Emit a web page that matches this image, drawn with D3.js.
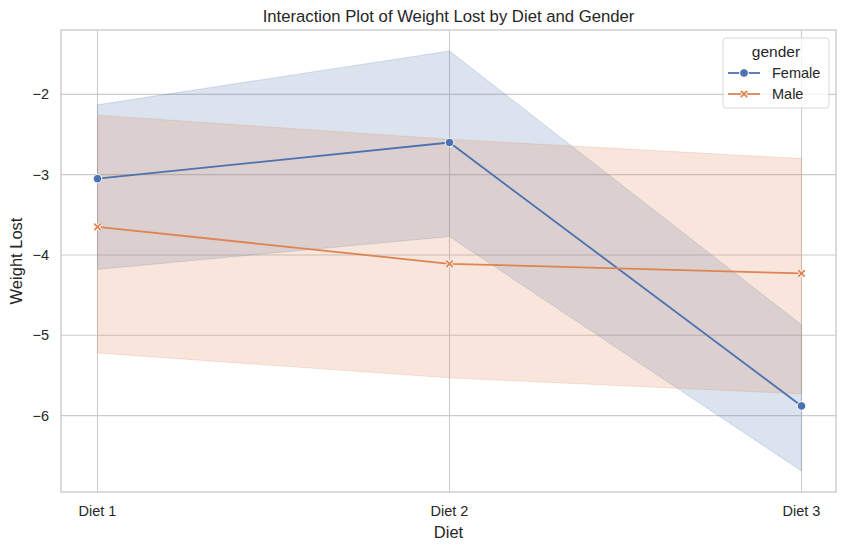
<!DOCTYPE html>
<html>
<head>
<meta charset="utf-8">
<script src="https://cdn.jsdelivr.net/npm/d3@7"></script>
<style>
  body { margin: 0; background: #fff; }
  svg text { font-family: "Liberation Sans", Arial, sans-serif; fill: #262626; }
</style>
</head>
<body>
<div id="chart"></div>
<script>
// data
const diets = ["Diet 1", "Diet 2", "Diet 3"];
const femaleMean = [-3.05, -2.60, -5.88];
const femaleLow = [-4.18, -3.77, -6.69];
const femaleHigh = [-2.13, -1.46, -4.87];
const maleMean = [-3.65, -4.11, -4.23];
const maleLow = [-5.22, -5.53, -5.73];
const maleHigh = [-2.26, -2.56, -2.80];
const yTicks = [-6, -5, -4, -3, -2];

const series = [
    { name: "Female", color: "#4c72b0", mean: femaleMean, low: femaleLow, high: femaleHigh, marker: "circle" },
    { name: "Male", color: "#dd8452", mean: maleMean, low: maleLow, high: maleHigh, marker: "x" }
];

const W = 846, H = 550;
const plot = { left: 61, right: 836, top: 30, bottom: 492 };

const svg = d3.select("#chart").append("svg")
    .attr("width", W)
    .attr("height", H);

const x = d3.scalePoint()
    .domain(diets)
    .range([plot.left + 36.5, plot.right - 34.5]);

// 5% padding like matplotlib
const allVals = femaleLow.concat(femaleHigh, maleLow, maleHigh);
const lo = d3.min(allVals), hi = d3.max(allVals);
const pad = (hi - lo) * 0.05;
const y = d3.scaleLinear()
    .domain([lo - pad, hi + pad])
    .range([plot.bottom, plot.top]);

// grid
const grid = svg.append("g");
grid.selectAll(".hgrid").data(yTicks).join("line")
    .attr("x1", plot.left).attr("x2", plot.right)
    .attr("y1", d => y(d)).attr("y2", d => y(d))
    .attr("stroke", "#cccccc").attr("stroke-width", 1.1);
grid.selectAll(".vgrid").data(diets).join("line")
    .attr("x1", d => x(d)).attr("x2", d => x(d))
    .attr("y1", plot.top).attr("y2", plot.bottom)
    .attr("stroke", "#cccccc").attr("stroke-width", 1.1);

// confidence bands
const band = d3.area()
    .x((d, i) => x(diets[i]))
    .y0(d => y(d[0]))
    .y1(d => y(d[1]));

series.forEach(s => {
    const pts = s.low.map((v, i) => [v, s.high[i]]);
    svg.append("path")
        .datum(pts)
        .attr("d", band)
        .attr("fill", s.color)
        .attr("fill-opacity", 0.2)
        .attr("stroke", s.color)
        .attr("stroke-opacity", 0.2)
        .attr("stroke-width", 1);
});

const line = d3.line()
    .x((d, i) => x(diets[i]))
    .y(d => y(d));

function drawMarker(g, type, cx, cy, color) {
    if (type === "circle") {
        g.append("circle")
            .attr("cx", cx).attr("cy", cy).attr("r", 4.3)
            .attr("fill", color).attr("stroke", "#fff").attr("stroke-width", 1);
    } else {
        const r = 3.2;
        const p = `M${cx - r},${cy - r}L${cx + r},${cy + r}M${cx - r},${cy + r}L${cx + r},${cy - r}`;
        g.append("path").attr("d", p).attr("stroke", "#fff").attr("stroke-width", 3.5);
        g.append("path").attr("d", p).attr("stroke", color).attr("stroke-width", 1.8);
    }
}

series.forEach(s => {
    svg.append("path")
        .datum(s.mean)
        .attr("d", line)
        .attr("fill", "none")
        .attr("stroke", s.color)
        .attr("stroke-width", 1.8);
    const g = svg.append("g");
    s.mean.forEach((v, i) => drawMarker(g, s.marker, x(diets[i]), y(v), s.color));
});

// frame
svg.append("rect")
    .attr("x", plot.left).attr("y", plot.top)
    .attr("width", plot.right - plot.left).attr("height", plot.bottom - plot.top)
    .attr("fill", "none").attr("stroke", "#cccccc").attr("stroke-width", 1.4);

// axes labels
svg.append("g").selectAll("text").data(yTicks).join("text")
    .attr("x", plot.left - 12)
    .attr("y", d => y(d))
    .attr("dy", "0.35em")
    .attr("text-anchor", "end")
    .attr("font-size", 14.5)
    .text(d => "\u2212" + Math.abs(d));

svg.append("g").selectAll("text").data(diets).join("text")
    .attr("x", d => x(d))
    .attr("y", plot.bottom + 24)
    .attr("text-anchor", "middle")
    .attr("font-size", 14.5)
    .text(d => d);

svg.append("text")
    .attr("x", (plot.left + plot.right) / 2)
    .attr("y", plot.bottom + 46)
    .attr("text-anchor", "middle")
    .attr("font-size", 16.5)
    .text("Diet");

svg.append("text")
    .attr("transform", `translate(22,${(plot.top + plot.bottom) / 2}) rotate(-90)`)
    .attr("text-anchor", "middle")
    .attr("font-size", 16.5)
    .text("Weight Lost");

svg.append("text")
    .attr("x", (plot.left + plot.right) / 2)
    .attr("y", plot.top - 8)
    .attr("text-anchor", "middle")
    .attr("font-size", 16.7)
    .text("Interaction Plot of Weight Lost by Diet and Gender");

// legend
const lg = svg.append("g").attr("transform", "translate(723,38)");
lg.append("rect")
    .attr("width", 106).attr("height", 70).attr("rx", 3)
    .attr("fill", "#fff").attr("fill-opacity", 0.8)
    .attr("stroke", "#d6d6d6").attr("stroke-width", 1);
lg.append("text")
    .attr("x", 53).attr("y", 19)
    .attr("text-anchor", "middle")
    .attr("font-size", 15.5)
    .text("gender");
series.forEach((s, i) => {
    const ly = 35 + i * 21;
    lg.append("line")
        .attr("x1", 5).attr("x2", 37).attr("y1", ly).attr("y2", ly)
        .attr("stroke", s.color).attr("stroke-width", 1.8);
    drawMarker(lg, s.marker, 21, ly, s.color);
    lg.append("text")
        .attr("x", 49).attr("y", ly).attr("dy", "0.35em")
        .attr("font-size", 14.5)
        .text(s.name);
});
</script>
</body>
</html>
